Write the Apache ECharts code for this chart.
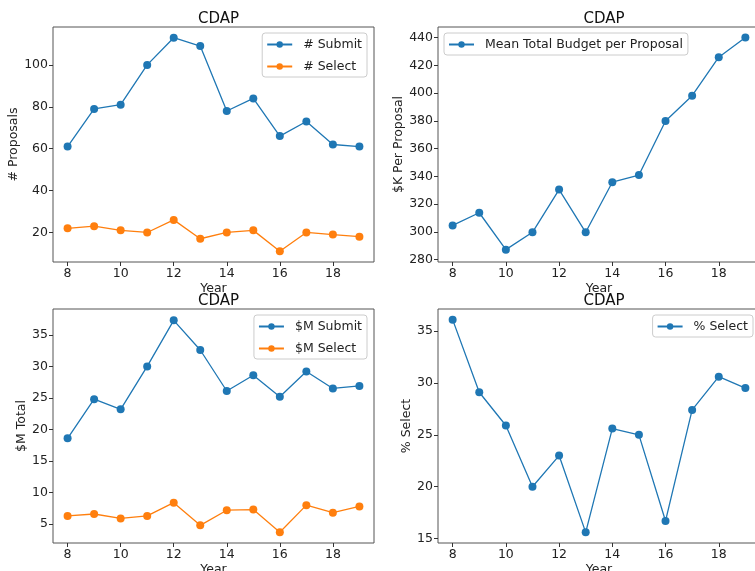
<!DOCTYPE html>
<html><head><meta charset="utf-8">
<script src="https://cdn.jsdelivr.net/npm/echarts@6/dist/echarts.min.js"></script>
<style>html,body{margin:0;padding:0;background:#fff}#c{width:755px;height:571px}</style>
</head><body><div id="c"></div>
<script>
const years = [8, 9, 10, 11, 12, 13, 14, 15, 16, 17, 18, 19];
const numSubmit = [61, 79, 81, 100, 113, 109, 78, 84, 66, 73, 62, 61];
const numSelect = [22, 23, 21, 20, 26, 17, 20, 21, 11, 20, 19, 18];
const meanBudget = [304.7, 313.8, 287.2, 299.7, 330.5, 299.7, 335.8, 341.0, 380.0, 398.2, 425.9, 440.2];
const mSubmit = [18.6, 24.8, 23.2, 30.0, 37.3, 32.6, 26.1, 28.6, 25.2, 29.2, 26.5, 26.9];
const mSelect = [6.3, 6.6, 5.9, 6.3, 8.4, 4.8, 7.2, 7.3, 3.7, 8.0, 6.8, 7.8];
const pctSelect = [36.1, 29.1, 25.9, 20.0, 23.0, 15.6, 25.6, 25.0, 16.7, 27.4, 30.6, 29.5];
const xTicks = [8, 10, 12, 14, 16, 18];
const yTicks1 = [20, 40, 60, 80, 100];
const yTicks2 = [280, 300, 320, 340, 360, 380, 400, 420, 440];
const yTicks3 = [5, 10, 15, 20, 25, 30, 35];
const yTicks4 = [15, 20, 25, 30, 35];

const BLUE = '#1f77b4', ORANGE = '#ff7f0e';
const FONT = 'DejaVu Sans';
const grids = [
  {left: 53, top: 27, width: 321, height: 235},
  {left: 438, top: 27, width: 322, height: 235},
  {left: 53, top: 309, width: 321, height: 234},
  {left: 438, top: 309, width: 322, height: 234}
];
const yCfg = [
  {name: '# Proposals', min: 5.9, max: 118.1, ticks: yTicks1, gap: 31},
  {name: '$K Per Proposal', min: 278.3, max: 447.7, ticks: yTicks2, gap: 31},
  {name: '$M Total', min: 2.0, max: 39.1, ticks: yTicks3, gap: 23},
  {name: '% Select', min: 14.575, max: 37.125, ticks: yTicks4, gap: 23}
];
const lbl = {color: '#222', fontFamily: FONT, fontSize: 12.5};

const option = {
  animation: false,
  backgroundColor: '#fff',
  title: grids.map(g => ({
    text: 'CDAP', left: g.left + g.width / 2, top: g.top - 20, textAlign: 'center',
    textStyle: {fontFamily: FONT, fontSize: 15, fontWeight: 'normal', color: '#111'}
  })),
  grid: grids.map(g => Object.assign({show: true, borderColor: '#555', borderWidth: 1,
    backgroundColor: 'transparent', outerBoundsMode: 'none', containLabel: false}, g)),
  xAxis: grids.map((g, i) => ({
    type: 'value', gridIndex: i, min: 7.45, max: 19.55,
    name: 'Year', nameLocation: 'middle', nameGap: 20,
    nameTextStyle: lbl,
    axisLine: {show: false}, splitLine: {show: false},
    axisTick: {show: true, length: 4, customValues: xTicks, lineStyle: {color: '#333'}},
    axisLabel: Object.assign({customValues: xTicks, margin: 5}, lbl)
  })),
  yAxis: yCfg.map((c, i) => ({
    type: 'value', gridIndex: i, min: c.min, max: c.max,
    name: c.name, nameLocation: 'middle', nameGap: c.gap, nameRotate: 90,
    nameTextStyle: lbl,
    axisLine: {show: false}, splitLine: {show: false},
    axisTick: {show: true, length: 4, customValues: c.ticks, lineStyle: {color: '#333'}},
    axisLabel: Object.assign({customValues: c.ticks, margin: 5}, lbl)
  })),
  legend: [
    {data: ['# Submit', '# Select'], right: 388, top: 33},
    {data: ['Mean Total Budget per Proposal'], left: 444, top: 33},
    {data: ['$M Submit', '$M Select'], right: 388, top: 315},
    {data: ['% Select'], right: 2, top: 315}
  ].map(l => Object.assign({
    orient: 'vertical', itemWidth: 25, itemHeight: 8, itemGap: 9,
    borderColor: '#ccc', borderWidth: 1, borderRadius: 3, padding: [5, 5, 4, 4],
    textStyle: Object.assign({padding: [0, 0, 0, 6]}, lbl)
  }, l)),
  series: []
};
function mk(name, vals, color, idx) {
  return {
    name, type: 'line', xAxisIndex: idx, yAxisIndex: idx,
    data: years.map((y, k) => [y, vals[k]]),
    symbol: 'circle', symbolSize: 8,
    lineStyle: {color, width: 1.3}, itemStyle: {color}
  };
}
option.series.push(mk('# Submit', numSubmit, BLUE, 0));
option.series.push(mk('# Select', numSelect, ORANGE, 0));
option.series.push(mk('Mean Total Budget per Proposal', meanBudget, BLUE, 1));
option.series.push(mk('$M Submit', mSubmit, BLUE, 2));
option.series.push(mk('$M Select', mSelect, ORANGE, 2));
option.series.push(mk('% Select', pctSelect, BLUE, 3));

echarts.init(document.getElementById('c'), null, {renderer: 'canvas'}).setOption(option);
</script></body></html>
